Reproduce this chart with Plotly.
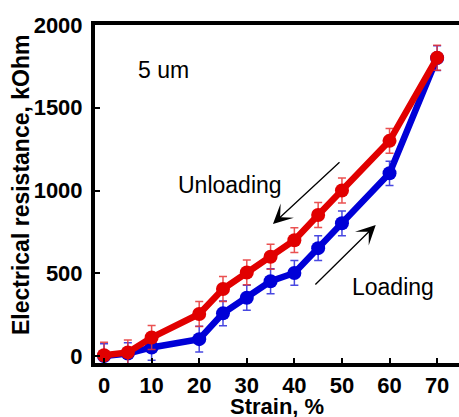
import plotly.graph_objects as go

strain = [0, 5, 10, 20, 25, 30, 35, 40, 45, 50, 60, 70]
loading = [0, 15, 52, 102, 258, 352, 452, 502, 652, 802, 1104, 1800]
unloading = [5, 22, 112, 254, 405, 505, 600, 700, 852, 1000, 1300, 1802]
loading_err = [75, 66, 78, 78, 75, 75, 75, 75, 75, 75, 73, 75]
unloading_err = [78, 75, 73, 75, 75, 75, 75, 75, 75, 75, 75, 75]
x_ticks = [0, 10, 20, 30, 40, 50, 60, 70]
y_ticks = [0, 500, 1000, 1500, 2000]

FONT = "Liberation Sans, Arial, sans-serif"
RED = "rgb(225,0,0)"
BLUE = "rgb(0,0,215)"

fig = go.Figure()
fig.add_trace(go.Scatter(
    x=strain, y=loading, mode="lines+markers", name="Loading",
    line=dict(color=BLUE, width=6.5), marker=dict(color=BLUE, size=14),
    error_y=dict(type="data", array=loading_err, visible=True,
                 color="rgba(40,40,220,0.85)", thickness=1.5, width=4),
))
fig.add_trace(go.Scatter(
    x=strain, y=unloading, mode="lines+markers", name="Unloading",
    line=dict(color=RED, width=6.5), marker=dict(color=RED, size=14),
    error_y=dict(type="data", array=unloading_err, visible=True,
                 color="rgba(230,50,50,0.85)", thickness=1.5, width=4),
))

ann = []
ann.append(dict(x=12.4, y=1729, xref="x", yref="y", text="5 um", showarrow=False,
                font=dict(family=FONT, size=23, color="black")))
ann.append(dict(x=26.5, y=1034, xref="x", yref="y", text="Unloading", showarrow=False,
                font=dict(family=FONT, size=23, color="black")))
ann.append(dict(x=60.7, y=420, xref="x", yref="y", text="Loading", showarrow=False,
                font=dict(family=FONT, size=23, color="black")))
# arrows
ann.append(dict(x=35.5, y=798, ax=49.8, ay=1179, xref="x", yref="y", axref="x", ayref="y",
                text="", showarrow=True, arrowhead=3, arrowsize=2.5, arrowwidth=1.3,
                arrowcolor="black"))
ann.append(dict(x=57.1, y=792, ax=44.1, ay=423, xref="x", yref="y", axref="x", ayref="y",
                text="", showarrow=True, arrowhead=3, arrowsize=2.5, arrowwidth=1.3,
                arrowcolor="black"))
# axis titles
ann.append(dict(x=-0.203, y=0.527, xref="paper", yref="paper", text="<b>Electrical resistance, kOhm</b>",
                textangle=-90, showarrow=False, xanchor="center", yanchor="middle",
                font=dict(family=FONT, size=23, color="black")))
ann.append(dict(x=0.5, y=-0.13, xref="paper", yref="paper", text="<b>Strain, %</b>",
                showarrow=False, xanchor="center", yanchor="middle",
                font=dict(family=FONT, size=22, color="black")))

fig.update_layout(
    width=459, height=417,
    margin=dict(l=95, r=0, t=25, b=54),
    paper_bgcolor="white", plot_bgcolor="white",
    showlegend=False,
    annotations=ann,
    xaxis=dict(range=[-1.9, 74.6], tickvals=x_ticks, ticktext=[f"<b>{v}</b>" for v in x_ticks],
               showgrid=False, zeroline=False, showline=True, linecolor="black", linewidth=4,
               mirror=True, ticks="inside", ticklen=5, tickwidth=2, tickcolor="black",
               tickfont=dict(family=FONT, size=22, color="black"), ticklabelstandoff=0),
    yaxis=dict(range=[-42, 2000], tickvals=y_ticks, ticktext=[f"<b>{v}</b>" for v in y_ticks],
               showgrid=False, zeroline=False, showline=True, linecolor="black", linewidth=4,
               mirror=False, ticks="inside", ticklen=5, tickwidth=2, tickcolor="black",
               tickfont=dict(family=FONT, size=22, color="black"), ticklabelstandoff=4),
)

fig.write_html("out.html")
